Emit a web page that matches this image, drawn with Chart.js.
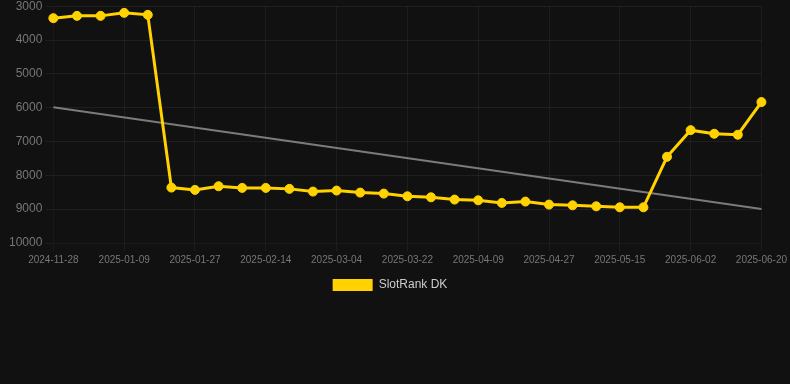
<!DOCTYPE html>
<html lang="en">
<head>
<meta charset="UTF-8">
<title>SlotRank DK</title>
<script src="https://cdn.jsdelivr.net/npm/chart.js"></script>
<style>
    html, body { margin: 0; padding: 0; background: #111111; overflow: hidden; }
    #wrap { width: 790px; height: 305px; position: relative; margin-top: -4px; }
</style>
</head>
<body>
<div id="wrap"><canvas id="rankChart"></canvas></div>
<script>
    // dates (category axis, every 3rd label shown)
    const labels = [
        '2024-11-28', '2024-12-12', '2024-12-26', '2025-01-09', '2025-01-15', '2025-01-21',
        '2025-01-27', '2025-02-02', '2025-02-08', '2025-02-14', '2025-02-20', '2025-02-26',
        '2025-03-04', '2025-03-10', '2025-03-16', '2025-03-22', '2025-03-28', '2025-04-03',
        '2025-04-09', '2025-04-15', '2025-04-21', '2025-04-27', '2025-05-03', '2025-05-09',
        '2025-05-15', '2025-05-21', '2025-05-27', '2025-06-02', '2025-06-08', '2025-06-14',
        '2025-06-20'
    ];
    // rank values
    const rankValues = [
        3354, 3286, 3286, 3197, 3256, 8362,
        8430, 8322, 8371, 8371, 8400, 8480,
        8450, 8510, 8540, 8619, 8649, 8717,
        8738, 8815, 8776, 8865, 8886, 8916,
        8945, 8945, 7452, 6664, 6770, 6800,
        5834
    ];
    // trend line end points
    const trendStart = 5985;
    const trendEnd = 8995;

    const yTicks = { min: 3000, max: 10000, step: 1000 };

    const ctx = document.getElementById('rankChart').getContext('2d');
    new Chart(ctx, {
        type: 'line',
        data: {
            labels: labels,
            datasets: [{
                label: 'SlotRank DK',
                data: rankValues,
                borderColor: '#FFD200',
                backgroundColor: '#FFD200',
                borderWidth: 3,
                pointRadius: 4.5,
                pointBorderWidth: 1,
                pointHoverRadius: 6,
                tension: 0,
                fill: false
            }, {
                label: 'trend',
                data: [
                    { x: labels[0], y: trendStart },
                    { x: labels[labels.length - 1], y: trendEnd }
                ],
                borderColor: 'rgba(150,150,150,0.8)',
                borderWidth: 2,
                pointRadius: 0,
                fill: false
            }]
        },
        options: {
            responsive: true,
            maintainAspectRatio: false,
            animation: false,
            layout: { padding: { left: 6, right: 16, top: 0, bottom: 0 } },
            plugins: {
                legend: {
                    position: 'bottom',
                    labels: {
                        color: '#cccccc',
                        font: { family: 'Liberation Sans, Arial, sans-serif', size: 12 },
                        // hide the trend line, no thick border round the box
                        generateLabels: chart => Chart.defaults.plugins.legend.labels.generateLabels(chart)
                            .filter(item => item.text !== 'trend')
                            .map(item => Object.assign(item, { lineWidth: 0 }))
                    }
                },
                tooltip: { enabled: false }
            },
            scales: {
                x: {
                    grid: { color: 'rgba(255,255,255,0.05)' },
                    ticks: {
                        color: '#777777',
                        font: { family: 'Liberation Sans, Arial, sans-serif', size: 10 },
                        maxRotation: 0,
                        autoSkip: false,
                        callback: function (val, i) { return i % 3 === 0 ? this.getLabelForValue(val) : null; }
                    }
                },
                y: {
                    reverse: true,
                    min: yTicks.min,
                    max: yTicks.max,
                    grid: { color: 'rgba(255,255,255,0.06)' },
                    ticks: {
                        stepSize: yTicks.step,
                        color: '#777777',
                        font: { family: 'Liberation Sans, Arial, sans-serif', size: 12 },
                        callback: v => String(v)
                    }
                }
            }
        }
    });
</script>
</body>
</html>
